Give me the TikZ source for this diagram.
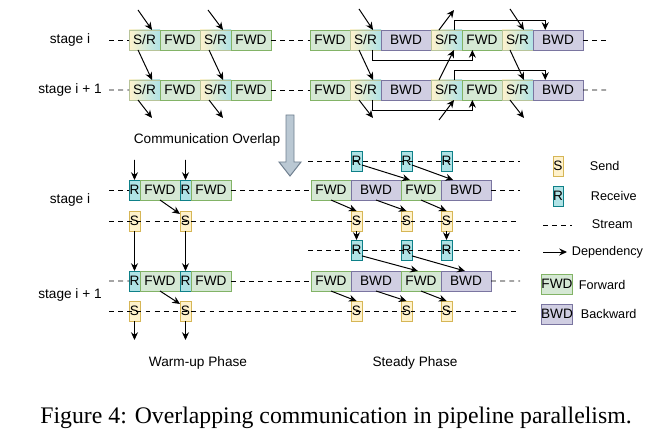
\documentclass[tikz,border=0pt]{standalone}
\usepackage{fontspec}
\setmainfont{Liberation Serif}
\setsansfont{Liberation Sans}
\usetikzlibrary{positioning, arrows.meta}
\definecolor{fwdfill}{HTML}{D5E8D4}
\definecolor{fwdline}{HTML}{82B366}
\definecolor{bwdfill}{HTML}{D0CEE2}
\definecolor{bwdline}{HTML}{7A75A0}
\definecolor{sendfill}{HTML}{FFF2CC}
\definecolor{sendline}{HTML}{D6B656}
\definecolor{recvfill}{HTML}{B0E3E6}
\definecolor{recvline}{HTML}{0E8088}
\definecolor{srline}{HTML}{B8C49A}
\definecolor{bigfill}{HTML}{BAC8D3}
\definecolor{bigline}{HTML}{6F7F8F}
\tikzset{box/.style={rectangle, inner sep=0pt, outer sep=0pt, minimum height=5mm, text depth=0pt, line width=0.7pt, font=\sffamily\fontsize{9.7}{11}\selectfont},
         fwdbox/.style={box, minimum width=10mm, fill=fwdfill, draw=fwdline},
         bwdbox/.style={box, minimum width=12.5mm, fill=bwdfill, draw=bwdline},
         srbox/.style={box, minimum width=7.75mm, left color=sendfill, right color=recvfill, draw=srline},
         sendbox/.style={box, minimum width=2.75mm, fill=sendfill, draw=sendline},
         recvbox/.style={box, minimum width=2.75mm, fill=recvfill, draw=recvline},
         stream/.style={dash pattern=on 3.5pt off 3pt, line width=0.7pt},
         dep/.style={-{Stealth[length=5.5pt, width=5pt]}, line width=0.7pt},
         stagelabel/.style={font=\sffamily\fontsize{9.7}{11}\selectfont},
         legendlabel/.style={font=\sffamily\fontsize{9}{11}\selectfont, anchor=west}}

\begin{document}
\begin{tikzpicture}[x=0.25mm, y=-0.25mm]
        \fill[white] (0,0) rectangle (651,441);
        \useasboundingbox (0,0) rectangle (651,441);
        % top: no overlap
        \node (toplbli)[stagelabel] at (70,40) {stage i};
        \node (toplblj)[stagelabel] at (70,90) {stage i + 1};
        \node (wi1)[srbox, anchor=west] at (129,40) {S/R};
        \node (wi2)[fwdbox, right=0pt of wi1] {FWD};
        \node (wi3)[srbox, right=0pt of wi2] {S/R};
        \node (wi4)[fwdbox, right=0pt of wi3] {FWD};
        \node (si1)[fwdbox, right=9.75mm of wi4] {FWD};
        \node (si2)[srbox, right=0pt of si1] {S/R};
        \node (si3)[bwdbox, right=0pt of si2] {BWD};
        \node (si4)[srbox, right=0pt of si3] {S/R};
        \node (si5)[fwdbox, right=0pt of si4] {FWD};
        \node (si6)[srbox, right=0pt of si5] {S/R};
        \node (si7)[bwdbox, right=0pt of si6] {BWD};
        \node (wj1)[srbox, below=7.5mm of wi1] {S/R};
        \node (wj2)[fwdbox, right=0pt of wj1] {FWD};
        \node (wj3)[srbox, right=0pt of wj2] {S/R};
        \node (wj4)[fwdbox, right=0pt of wj3] {FWD};
        \node (sj1)[fwdbox, right=9.75mm of wj4] {FWD};
        \node (sj2)[srbox, right=0pt of sj1] {S/R};
        \node (sj3)[bwdbox, right=0pt of sj2] {BWD};
        \node (sj4)[srbox, right=0pt of sj3] {S/R};
        \node (sj5)[fwdbox, right=0pt of sj4] {FWD};
        \node (sj6)[srbox, right=0pt of sj5] {S/R};
        \node (sj7)[bwdbox, right=0pt of sj6] {BWD};
        \coordinate (wistart) at (109,40);
        \coordinate (siend) at (608,40);
        \coordinate (wjstart) at (109,90);
        \coordinate (sjend) at (608,90);
        \draw [stream] (wistart) -- (wi1.west);
        \draw [stream] (wi4.east) -- (si1.west);
        \draw [stream] (si7.east) -- (siend);
        \draw [stream] (wjstart) -- (wj1.west);
        \draw [stream] (wj4.east) -- (sj1.west);
        \draw [stream] (sj7.east) -- (sjend);
        \coordinate (wi1in) at (138,10);
        \coordinate (wi3in) at (208,10);
        \coordinate (wj1out) at (152,118);
        \coordinate (wj3out) at (223,118);
        \draw [dep] (wi1in) -- (wi1.53);
        \draw [dep] (wi3in) -- (wi3.53);
        \draw [dep] (wi1.-123) -- (wj1.53);
        \draw [dep] (wi3.-123) -- (wj3.53);
        \draw [dep] (wj1.-123) -- (wj1out);
        \draw [dep] (wj3.-123) -- (wj3out);
        \coordinate (si2in) at (359,9);
        \coordinate (sj2out) at (373,118);
        \coordinate (si4out) at (454,10);
        \coordinate (sj4in) at (439,120);
        \coordinate (si6in) at (510,9);
        \coordinate (sj6out) at (524,118);
        \draw [dep] (si2in) -- (si2.53);
        \draw [dep] (si2.-123) -- (sj2.53);
        \draw [dep] (sj2.-123) -- (sj2out);
        \draw [dep] (si2.-57) -- ++(0,10) -| (si5.-134);
        \draw [dep] (sj2.-57) -- ++(0,10) -| (sj5.-134);
        \draw [dep] (si4.127) -- (si4out);
        \draw [dep] (sj4.127) -- (si4.-53);
        \draw [dep] (sj4in) -- (sj4.-53);
        \draw [dep] (si4.53) -- ++(0,-10) -| (si7.142);
        \draw [dep] (sj4.53) -- ++(0,-10) -| (sj7.142);
        \draw [dep] (si6in) -- (si6.57);
        \draw [dep] (si6.-127) -- (sj6.57);
        \draw [dep] (sj6.-127) -- (sj6out);
        % shift arrow
        \node (overlap)[stagelabel] at (207,140) {Communication Overlap};
        \filldraw [fill=bigfill, draw=bigline, line width=0.7pt] (286,115) -- (294,115) -- (294,162) -- (301,162) -- (290,176) -- (279,162) -- (286,162) -- cycle;
        % bottom: with overlap
        \node (botlbli)[stagelabel] at (70,200) {stage i};
        \node (botlblj)[stagelabel] at (70,295) {stage i + 1};
        \node (ai1)[recvbox, anchor=west] at (129,190) {R};
        \node (ai2)[fwdbox, right=0pt of ai1] {FWD};
        \node (ai3)[recvbox, right=0pt of ai2] {R};
        \node (ai4)[fwdbox, right=0pt of ai3] {FWD};
        \node (as1)[sendbox, below=2.75mm of ai1] {S};
        \node (as2)[sendbox, below=2.75mm of ai3] {S};
        \node (aj1)[recvbox, below=10mm of as1] {R};
        \node (aj2)[fwdbox, right=0pt of aj1] {FWD};
        \node (aj3)[recvbox, right=0pt of aj2] {R};
        \node (aj4)[fwdbox, right=0pt of aj3] {FWD};
        \node (at1)[sendbox, below=2.5mm of aj1] {S};
        \node (at2)[sendbox, below=2.5mm of aj3] {S};
        \node (sa1)[fwdbox, right=20mm of ai4] {FWD};
        \node (sa2)[bwdbox, right=0pt of sa1] {BWD};
        \node (sa3)[fwdbox, right=0pt of sa2] {FWD};
        \node (sa4)[bwdbox, right=0pt of sa3] {BWD};
        \node (sc1)[fwdbox, right=20mm of aj4] {FWD};
        \node (sc2)[bwdbox, right=0pt of sc1] {BWD};
        \node (sc3)[fwdbox, right=0pt of sc2] {FWD};
        \node (sc4)[bwdbox, right=0pt of sc3] {BWD};
        \node (sr1)[recvbox, anchor=west] at (sa2.west |- 0,161) {R};
        \node (sr2)[recvbox, anchor=west] at (sa3.west |- 0,161) {R};
        \node (sr3)[recvbox, anchor=west] at (sa4.west |- 0,161) {R};
        \node (ss1)[sendbox, anchor=west] at (sa2.west |- as1) {S};
        \node (ss2)[sendbox, anchor=west] at (sa3.west |- as1) {S};
        \node (ss3)[sendbox, anchor=west] at (sa4.west |- as1) {S};
        \node (sq1)[recvbox, anchor=west] at (sa2.west |- 0,250) {R};
        \node (sq2)[recvbox, anchor=west] at (sa3.west |- 0,250) {R};
        \node (sq3)[recvbox, anchor=west] at (sa4.west |- 0,250) {R};
        \node (st1)[sendbox, anchor=west] at (sc2.west |- at1) {S};
        \node (st2)[sendbox, anchor=west] at (sc3.west |- at1) {S};
        \node (st3)[sendbox, anchor=west] at (sc4.west |- at1) {S};
        \coordinate (aistart) at (109,190);
        \coordinate (saend) at (520,190);
        \coordinate (asstart) at (109,221);
        \coordinate (ssend) at (520,221);
        \coordinate (srstart) at (308,161);
        \coordinate (srend) at (520,161);
        \coordinate (sqstart) at (308,250);
        \coordinate (sqend) at (520,250);
        \coordinate (ajstart) at (109,281);
        \coordinate (scend) at (520,281);
        \coordinate (atstart) at (109,311);
        \coordinate (stend) at (520,311);
        \draw [stream] (aistart) -- (ai1.west);
        \draw [stream] (ai4.east) -- (sa1.west);
        \draw [stream] (sa4.east) -- (saend);
        \draw [stream] (ajstart) -- (aj1.west);
        \draw [stream] (aj4.east) -- (sc1.west);
        \draw [stream] (sc4.east) -- (scend);
        \draw [stream] (asstart) -- (ssend);
        \draw [stream] (atstart) -- (stend);
        \draw [stream] (srstart) -- (srend);
        \draw [stream] (sqstart) -- (sqend);
        % warm-up dependencies
        \coordinate (ai1in) at (134.5,160);
        \coordinate (ai3in) at (185.5,160);
        \coordinate (at1out) at (134.5,340);
        \coordinate (at2out) at (185.5,340);
        \draw [dep] (ai1in) -- (ai1.north);
        \draw [dep] (ai3in) -- (ai3.north);
        \draw [dep] (ai2.south) -- (as2.128);
        \draw [dep] (as1.south) -- (aj1.north);
        \draw [dep] (as2.south) -- (aj3.north);
        \draw [dep] (aj2.south) -- (at2.128);
        \draw [dep] (at1.south) -- (at1out);
        \draw [dep] (at2.south) -- (at2out);
        % steady dependencies
        \draw [dep] (sr1.-36) -- (sa3.138);
        \draw [dep] (sr2.-36) -- (sa4.142);
        \draw [dep] (sa1.south) -- (ss1.north);
        \draw [dep] (sa2.south) -- (ss2.north);
        \draw [dep] (sa3.south) -- (ss3.north);
        \draw [dep] (ss1.south) -- (sq1.north);
        \draw [dep] (ss3.south) -- (sq3.north);
        \draw [dep] (sq1.-47) -- (sc3.107);
        \draw [dep] (sq2.-47) -- (sc4.96);
        \draw [dep] (sc1.south) -- (st1.north);
        \draw [dep] (sc2.south) -- (st2.north);
        \draw [dep] (sc3.south) -- (st3.north);
        \node (warmup)[stagelabel] at (198,363) {Warm-up Phase};
        \node (steady)[stagelabel] at (415,363) {Steady Phase};
        % legend
        \node (keysend)[sendbox, minimum width=2.5mm] at (558,166) {S};
        \node (keysendtxt)[legendlabel] at (585,166) {Send};
        \node (keyrecv)[recvbox, minimum width=2.5mm] at (558,196) {R};
        \node (keyrecvtxt)[legendlabel] at (586,196) {Receive};
        \coordinate (keystreama) at (543,225);
        \coordinate (keystreamb) at (572,225);
        \draw [stream] (keystreama) -- (keystreamb);
        \node (keystreamtxt)[legendlabel] at (587,224) {Stream};
        \coordinate (keydep) at (543,252);
        \node (keydeptxt)[legendlabel] at (567,252) {Dependency};
        \draw [dep] (keydep) -- (keydeptxt.west);
        \node (keyfwd)[fwdbox, minimum width=7.5mm] at (557,284) {FWD};
        \node (keyfwdtxt)[legendlabel] at (574,285) {Forward};
        \node (keybwd)[bwdbox, minimum width=7.5mm] at (557,314) {BWD};
        \node (keybwdtxt)[legendlabel] at (576,314) {Backward};
        % caption
        \node (caption)[font=\fontsize{16.9}{20}\selectfont] at (336,418) {Figure 4: Overlapping communication in pipeline parallelism.};
    \end{tikzpicture}
\end{document}
